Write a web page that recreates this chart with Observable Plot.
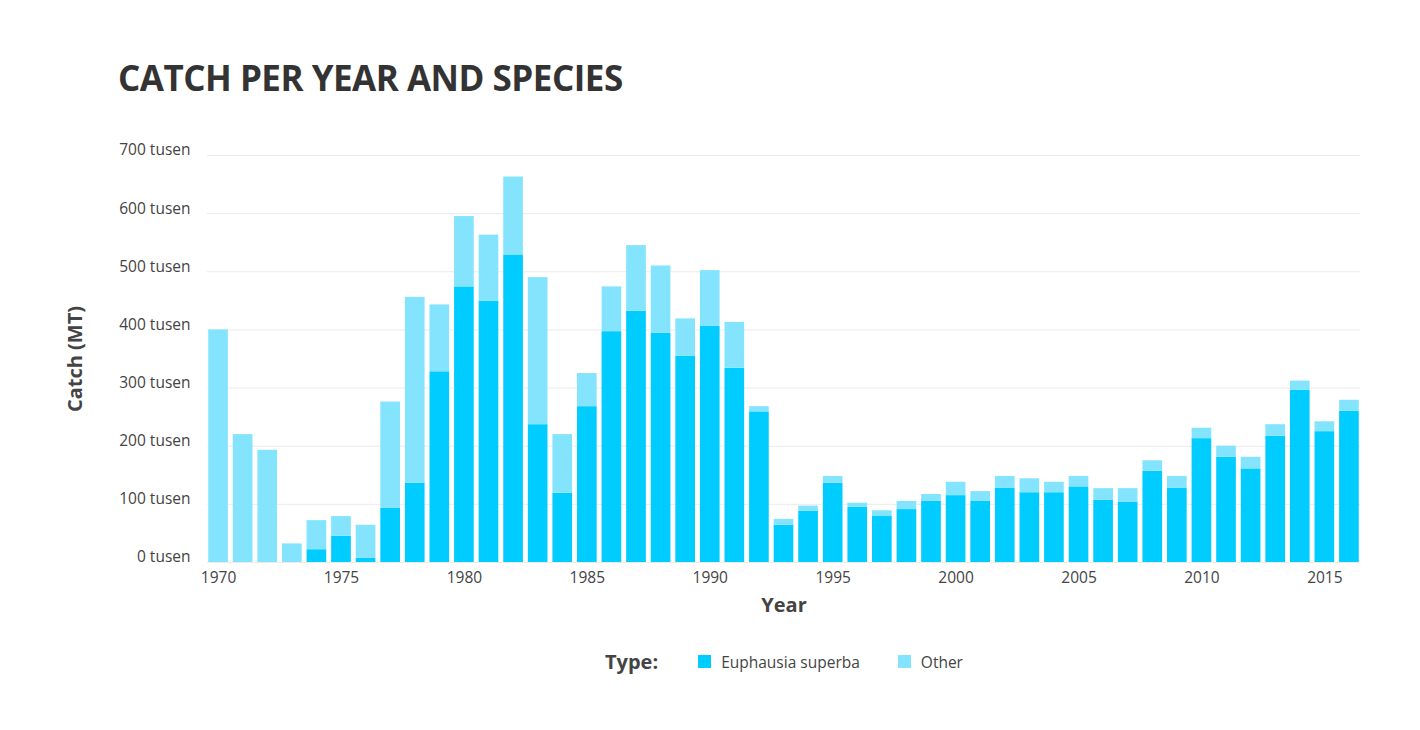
<!DOCTYPE html>
<html>
<head>
<meta charset="utf-8">
<script src="https://cdn.jsdelivr.net/npm/d3@7"></script>
<script src="https://cdn.jsdelivr.net/npm/@observablehq/plot@0.6"></script>
<style>
  html, body { margin: 0; padding: 0; background: #fff; width: 1420px; height: 730px; overflow: hidden; }
  body { font-family: "Open Sans", "Noto Sans", sans-serif; position: relative; }
  #title { position: absolute; left: 118px; top: 54px; font-size: 35px; font-weight: 700; color: #333; letter-spacing: -0.5px; white-space: nowrap; }
  #chart { position: absolute; left: 0; top: 120px; }
  #legend { position: absolute; top: 648px; left: 605px; display: flex; align-items: center; color: #444; font-size: 15.5px; white-space: nowrap; }
  #legend .ttl { font-weight: 700; font-size: 20px; margin-right: 40px; color: #444; }
  #legend .sw { width: 13px; height: 13px; display: inline-block; margin-right: 10px; }
  #legend .item { display: flex; align-items: center; margin-right: 38px; }
</style>
</head>
<body>
<div id="title">CATCH PER YEAR AND SPECIES</div>
<div id="chart"></div>
<div id="legend"></div>
<script>
// Years
const years = d3.range(1970, 2017);
// Total catch per year (thousand tonnes)
const totals = [400, 220, 193, 32, 72, 79, 64, 276, 456, 443,
                595, 563, 663, 490, 220, 325, 474, 545, 510, 419,
                502, 413, 268, 74, 97, 148, 102, 89, 105, 117,
                138, 122, 148, 144, 138, 148, 127, 127, 175, 148,
                231, 200, 181, 237, 312, 242, 279];
// Euphausia superba catch per year (thousand tonnes)
const euphausia = [0, 0, 0, 0, 22, 45, 7, 93, 136, 328,
                   474, 449, 529, 237, 119, 268, 397, 432, 394, 355,
                   406, 334, 259, 64, 88, 136, 95, 80, 91, 105,
                   115, 105, 128, 120, 120, 130, 107, 104, 157, 128,
                   213, 181, 161, 217, 296, 225, 260];
const types = ["Euphausia superba", "Other"];
const colors = ["#00ccff", "#84e4fd"];
const yTicks = [0, 100, 200, 300, 400, 500, 600, 700];
const xTickYears = [1970, 1975, 1980, 1985, 1990, 1995, 2000, 2005, 2010, 2015];

const data = [];
years.forEach((yr, i) => {
  data.push({year: yr, type: types[0], value: euphausia[i]});
  data.push({year: yr, type: types[1], value: totals[i] - euphausia[i]});
});

const font = "'Open Sans', 'Noto Sans', sans-serif";
const chart = Plot.plot({
  width: 1420,
  height: 500,
  marginLeft: 207,
  marginRight: 60,
  marginTop: 35,
  marginBottom: 58,
  style: {fontFamily: font, fontSize: "15.5px", color: "#444", background: "transparent"},
  x: {type: "band", domain: years, paddingInner: 0.2, paddingOuter: 0.05, round: false, label: null},
  y: {domain: [0, 700], label: null},
  color: {domain: types, range: colors},
  marks: [
    Plot.gridY(yTicks, {stroke: "#ebebeb", strokeOpacity: 1, strokeWidth: 1}),
    Plot.barY(data, {x: "year", y: "value", fill: "type", order: types}),
    Plot.axisY(yTicks, {tickSize: 0, tickPadding: 17, dy: -5, tickFormat: d => `${d} tusen`, fill: "#444", label: null}),
    Plot.axisX(xTickYears, {tickSize: 0, tickPadding: 9, tickFormat: d => String(d), fill: "#444", label: null}),
    Plot.text(["Year"], {frameAnchor: "bottom", dy: 43, fontSize: 20, fontWeight: 700, fill: "#444", lineAnchor: "middle"}),
    Plot.text(["Catch (MT)"], {frameAnchor: "left", dx: -132, rotate: -90, textAnchor: "middle", fontSize: 20, fontWeight: 700, fill: "#444", lineAnchor: "middle"})
  ]
});
document.getElementById("chart").appendChild(chart);

const legend = document.getElementById("legend");
const t = document.createElement("span");
t.className = "ttl"; t.textContent = "Type:";
legend.appendChild(t);
types.forEach((ty, i) => {
  const it = document.createElement("span");
  it.className = "item";
  const sw = document.createElement("span");
  sw.className = "sw"; sw.style.background = colors[i];
  const lb = document.createElement("span");
  lb.textContent = ty;
  it.appendChild(sw); it.appendChild(lb);
  legend.appendChild(it);
});
</script>
</body>
</html>
